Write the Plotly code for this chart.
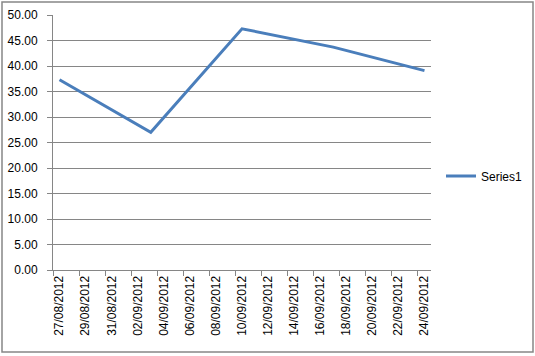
import plotly.graph_objects as go

dates = ["2012-08-27", "2012-09-03", "2012-09-10", "2012-09-17", "2012-09-24"]
values = [37.3, 27.0, 47.3, 43.7, 39.1]
series_name = "Series1"
tick_dates = ["2012-08-27", "2012-08-29", "2012-08-31", "2012-09-02", "2012-09-04",
              "2012-09-06", "2012-09-08", "2012-09-10", "2012-09-12", "2012-09-14",
              "2012-09-16", "2012-09-18", "2012-09-20", "2012-09-22", "2012-09-24"]

W, H = 535, 356
ML, MR, MT, MB = 53, 104, 15, 86
pw, ph = W - ML - MR, H - MT - MB
GRAY = "#868686"
FONT = "Liberation Sans"

fig = go.Figure()
fig.add_trace(go.Scatter(x=dates, y=values, mode="lines", name=series_name,
                         line=dict(color="#4a7ebb", width=3)))

fig.update_layout(
    width=W, height=H,
    margin=dict(l=ML, r=MR, t=MT, b=MB, autoexpand=False),
    paper_bgcolor="white", plot_bgcolor="white",
    font=dict(family=FONT, size=12, color="#000000"),
    showlegend=True,
    legend=dict(x=(441 - ML) / pw, xanchor="left", y=(H - MB - 176) / ph,
                yanchor="middle", font=dict(size=12), bgcolor="rgba(0,0,0,0)",
                itemwidth=30),
    xaxis=dict(
        type="date", automargin=False,
        range=["2012-08-26 12:00", "2012-09-24 12:00"],
        tickmode="array", tickvals=tick_dates, tickformat="%d/%m/%Y",
        tickangle=-90, ticks="", showgrid=False, zeroline=False,
        showline=True, linecolor=GRAY, linewidth=1,
        minor=dict(tick0="2012-08-26 12:00", dtick=2 * 86400000, ticks="outside",
                   ticklen=5, tickcolor=GRAY, tickwidth=1, showgrid=False),
        tickfont=dict(size=12),
    ),
    yaxis=dict(
        range=[0, 50], dtick=5, tick0=0, tickformat=".2f", automargin=False,
        showgrid=True, gridcolor=GRAY, gridwidth=1, zeroline=False,
        showline=True, linecolor=GRAY, linewidth=1,
        ticks="outside", ticklen=5, tickcolor=GRAY, ticklabelstandoff=7,
        tickfont=dict(size=12),
    ),
)

# outer chart border
fig.add_shape(type="rect", xref="paper", yref="paper",
              x0=(2 - ML) / pw, x1=(533 - ML) / pw,
              y0=(H - MB - 352) / ph, y1=(H - MB - 2) / ph,
              line=dict(color=GRAY, width=1.5), fillcolor="rgba(0,0,0,0)", layer="below")

fig.write_html("out.html", config={"displayModeBar": False},
               post_script="document.body.style.margin='0';document.body.style.overflow='hidden';")
